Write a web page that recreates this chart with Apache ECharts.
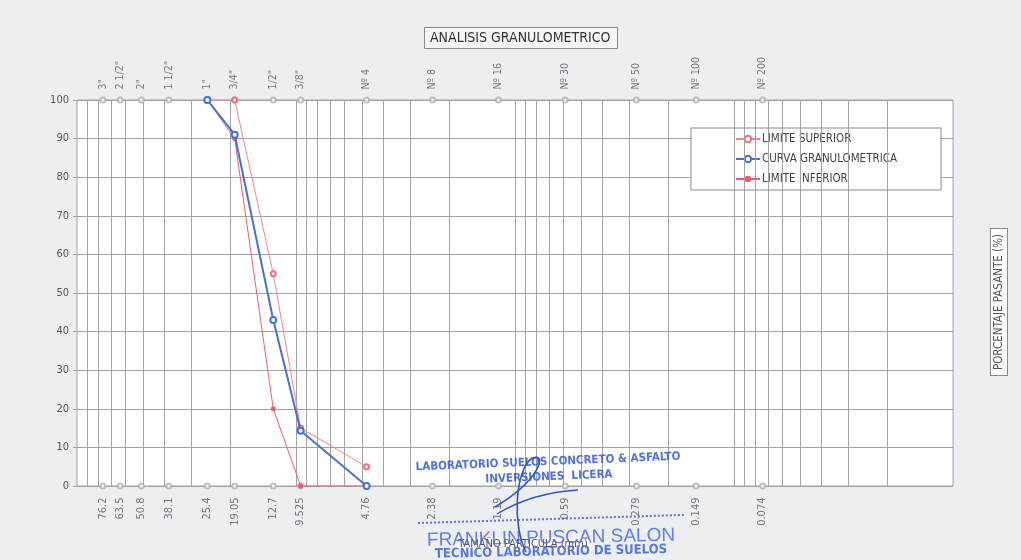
<!DOCTYPE html>
<html>
<head>
<meta charset="utf-8">
<script src="https://cdn.jsdelivr.net/npm/echarts@6/dist/echarts.min.js"></script>
<style>
html,body{margin:0;padding:0;background:#eceef2;}
#c{width:1021px;height:560px;}
</style>
</head>
<body>
<div id="c"></div>
<script>
// ---- data ----
const sieveSizes = [76.2, 63.5, 50.8, 38.1, 25.4, 19.05, 12.7, 9.525, 4.76, 2.38, 1.19, 0.59, 0.279, 0.149, 0.074];
const sieveNames = ['3"', '2 1/2"', '2"', '1 1/2"', '1"', '3/4"', '1/2"', '3/8"', 'Nº 4', 'Nº 8', 'Nº 16', 'Nº 30', 'Nº 50', 'Nº 100', 'Nº 200'];
const sieveMm = ['76.2', '63.5', '50.8', '38.1', '25.4', '19.05', '12.7', '9.525', '4.76', '2.38', '1.19', '0.59', '0.279', '0.149', '0.074'];
const curveSizes = [25.4, 19.05, 12.7, 9.525, 4.76];
const limiteSuperior = [100, 100, 55, 15, 5];
const curvaGranulometrica = [100, 91, 43, 14.3, 0];
const limiteInferior = [100, 90, 20, 0, 0];
const yTicks = [0, 10, 20, 30, 40, 50, 60, 70, 80, 90, 100];
const decades = [0.01, 0.1, 1, 10];
const multiples = [1, 2, 3, 4, 5, 6, 7, 8, 9];

const FONT = "'Liberation Sans Narrow', 'DejaVu Sans Condensed', 'Arial Narrow', sans-serif";
const GRID = '#a2a2a6';

const vLines = [];
decades.forEach(d => multiples.forEach(m => {
  const v = +(d * m).toPrecision(3);
  if (v > 0.01 && v < 100) vLines.push({ xAxis: v });
}));

const pair = (xs, ys) => xs.map((x, i) => [x, ys[i]]);

const chart = echarts.init(document.getElementById('c'));
chart.setOption({
  backgroundColor: '#eceef2',
  animation: false,
  textStyle: { fontFamily: FONT },
  title: {
    text: 'ANALISIS GRANULOMETRICO',
    left: 424, top: 27,
    padding: [4, 7, 4, 6],
    borderColor: '#8a8a8e', borderWidth: 1,
    backgroundColor: '#f6f6f8',
    textStyle: { fontFamily: FONT, fontSize: 14, fontWeight: 'normal', color: '#333' }
  },
  legend: {
    data: ['LIMITE SUPERIOR', 'CURVA GRANULOMETRICA', 'LIMITE INFERIOR'],
    orient: 'vertical',
    left: 691, top: 128,
    padding: [5, 44, 5, 44],
    itemGap: 8,
    itemWidth: 24, itemHeight: 8,
    borderColor: '#8a8a8e', borderWidth: 1,
    backgroundColor: '#fff',
    textStyle: { fontFamily: FONT, fontSize: 11.5, color: '#444', padding: [0, 0, 0, -3] }
  },
  grid: {
    left: 77, right: 68, top: 100, bottom: 74,
    show: true, backgroundColor: '#fff', borderColor: GRID, borderWidth: 1
  },
  xAxis: {
    type: 'log', logBase: 10, min: 0.01, max: 100, inverse: true,
    axisLabel: { show: false }, axisTick: { show: false },
    axisLine: { show: false }, splitLine: { show: false }
  },
  yAxis: {
    type: 'value', min: yTicks[0], max: yTicks[yTicks.length - 1], interval: 10,
    axisLine: { show: false },
    axisTick: { show: true, length: 4, lineStyle: { color: GRID } },
    axisLabel: { fontFamily: FONT, fontSize: 11, color: '#555', margin: 8 },
    splitLine: { lineStyle: { color: GRID, width: 1 } }
  },
  series: [
    {
      name: 'grid-v', type: 'line', data: [], silent: true,
      markLine: {
        silent: true, symbol: ['none', 'none'], label: { show: false },
        lineStyle: { color: GRID, width: 1, type: 'solid' },
        data: vLines
      }
    },
    {
      name: 'tamices-sup', type: 'scatter', silent: true, z: 5,
      symbol: 'emptyCircle', symbolSize: 5,
      itemStyle: { color: '#b0b0b4' },
      data: sieveSizes.map((d, i) => ({ value: [d, 100], name: sieveNames[i] })),
      label: {
        show: true, position: 'top', distance: 7, rotate: 90,
        align: 'left', verticalAlign: 'middle',
        formatter: '{b}', fontFamily: FONT, fontSize: 10.5, color: '#5a5a5e'
      }
    },
    {
      name: 'tamices-inf', type: 'scatter', silent: true, z: 5,
      symbol: 'emptyCircle', symbolSize: 5,
      itemStyle: { color: '#b0b0b4' },
      data: sieveSizes.map((d, i) => ({ value: [d, 0], name: sieveMm[i] })),
      label: {
        show: true, position: 'bottom', distance: 8, rotate: 90,
        align: 'right', verticalAlign: 'middle',
        formatter: '{b}', fontFamily: FONT, fontSize: 11, color: '#5a5a5e'
      }
    },
    {
      name: 'LIMITE SUPERIOR', type: 'line', z: 6,
      data: pair(curveSizes, limiteSuperior),
      symbol: 'emptyCircle', symbolSize: 5,
      lineStyle: { color: '#f28490', width: 1 },
      itemStyle: { color: '#f07080' }
    },
    {
      name: 'CURVA GRANULOMETRICA', type: 'line', z: 7,
      data: pair(curveSizes, curvaGranulometrica),
      symbol: 'emptyCircle', symbolSize: 6,
      lineStyle: { color: '#4b6fd8', width: 2 },
      itemStyle: { color: '#4b6fd8', borderWidth: 1.2 }
    },
    {
      name: 'LIMITE INFERIOR', type: 'line', z: 6,
      data: pair(curveSizes, limiteInferior),
      symbol: 'circle', symbolSize: 5,
      lineStyle: { color: '#ee5c6c', width: 1 },
      itemStyle: { color: '#ee5c6c' }
    }
  ],
  graphic: [
    {
      type: 'text', left: 990, top: 228, rotation: Math.PI / 2,
      style: {
        text: 'PORCENTAJE PASANTE (%)', font: '11.5px ' + FONT, fill: '#555',
        backgroundColor: '#fff', borderColor: '#8a8a8e', borderWidth: 1, padding: [2, 5]
      },
      z: 10
    },
    {
      type: 'text', x: 523, y: 544, z: 10,
      style: {
        text: 'TAMAÑO PARTICULA (mm)', font: '11px ' + FONT, fill: '#555',
        align: 'center', verticalAlign: 'middle', backgroundColor: '#fff', padding: [1, 4]
      }
    },
    { type: 'text', x: 548, y: 462, rotation: 0.04, z: 20,
      style: { text: 'LABORATORIO SUELOS CONCRETO & ASFALTO', font: 'bold 11.5px ' + FONT, fill: '#3d5fe0', align: 'center', verticalAlign: 'middle', opacity: 0.9 } },
    { type: 'text', x: 549, y: 477, rotation: 0.04, z: 20,
      style: { text: 'INVERSIONES  LICERA', font: 'bold 11.5px ' + FONT, fill: '#3d5fe0', align: 'center', verticalAlign: 'middle', opacity: 0.9 } },
    { type: 'line', z: 20, shape: { x1: 418, y1: 523, x2: 684, y2: 515 },
      style: { stroke: '#3d5fe0', lineWidth: 2, lineDash: [2, 2], opacity: 0.85 } },
    { type: 'text', x: 551, y: 538, rotation: 0.02, z: 20,
      style: { text: 'FRANKLIN PUSCAN SALON', font: "19px 'Liberation Sans', sans-serif", fill: '#4a6ae6', align: 'center', verticalAlign: 'middle', opacity: 0.85 } },
    { type: 'text', x: 551, y: 552, rotation: 0.02, z: 20,
      style: { text: 'TECNICO LABORATORIO DE SUELOS', font: 'bold 13px ' + FONT, fill: '#3d5fe0', align: 'center', verticalAlign: 'middle', opacity: 0.85 } },
    { type: 'bezierCurve', z: 21,
      shape: { x1: 495, y1: 507, cpx1: 540, cpy1: 480, cpx2: 548, cpy2: 452, x2: 532, y2: 458 },
      style: { stroke: '#2f55c8', lineWidth: 1.6, fill: null } },
    { type: 'bezierCurve', z: 21,
      shape: { x1: 532, y1: 458, cpx1: 515, cpy1: 470, cpx2: 512, cpy2: 525, x2: 526, y2: 552 },
      style: { stroke: '#2f55c8', lineWidth: 1.6, fill: null } },
    { type: 'bezierCurve', z: 21,
      shape: { x1: 497, y1: 514, cpx1: 520, cpy1: 500, cpx2: 545, cpy2: 492, x2: 578, y2: 490 },
      style: { stroke: '#2f55c8', lineWidth: 1.4, fill: null } }
  ]
});
</script>
</body>
</html>
